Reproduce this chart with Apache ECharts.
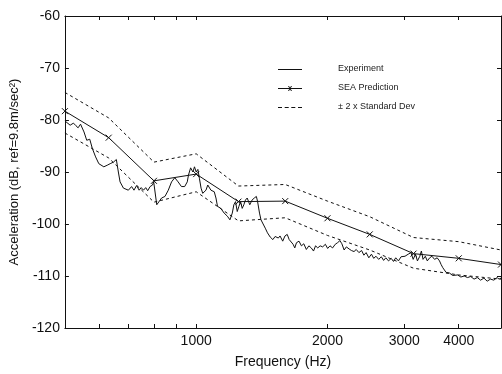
<!DOCTYPE html>
<html>
<head>
<meta charset="utf-8">
<script src="https://cdn.jsdelivr.net/npm/echarts@6/dist/echarts.min.js"></script>
<style>html,body{margin:0;padding:0;background:#fff;}#c{width:502px;height:374px;}</style>
</head>
<body>
<div id="c"></div>
<script>
// 1/3-octave band centres used by the SEA prediction
const seaFreq = [500, 630, 800, 1000, 1250, 1600, 2000, 2500, 3150, 4000, 5000];
const seaDb   = [-78.3, -83.4, -91.7, -90.4, -95.7, -95.6, -98.9, -102.0, -105.7, -106.6, -107.8];
const upperDb = [-74.7, -79.6, -88.1, -86.5, -92.7, -92.4, -95.6, -98.6, -102.6, -103.4, -105.0];
const lowerDb = [-82.5, -87.3, -95.8, -93.8, -99.4, -98.8, -102.2, -105.0, -108.5, -109.8, -110.6];

// Measured (experiment) spectrum
const expFreq = [502,507,514,523,530,536,543,553,561,570,578,588,598,614,625,635,646,656,663,669,681,699,711,720,730,740,748,757,766,774,784,794,799,812,833,848,863,878,893,909,925,941,954,960,971,983,991,1000,1009,1017,1026,1035,1041,1053,1063,1071,1081,1100,1110,1119,1129,1139,1159,1179,1195,1210,1220,1231,1242,1253,1264,1275,1286,1297,1309,1327,1343,1359,1374,1383,1397,1408,1422,1440,1457,1478,1499,1517,1543,1557,1579,1598,1617,1634,1668,1683,1698,1721,1743,1765,1789,1813,1836,1858,1878,1900,1924,1950,1978,2002,2027,2055,2084,2109,2136,2158,2184,2210,2242,2270,2301,2328,2361,2395,2424,2453,2488,2523,2553,2584,2621,2658,2690,2722,2761,2800,2834,2868,2909,2950,3012,3064,3108,3145,3183,3216,3257,3284,3313,3353,3388,3431,3472,3521,3569,3614,3645,3677,3710,3741,3774,3806,3839,3873,3908,3976,4045,4117,4188,4261,4337,4412,4489,4569,4648,4729,4814,4897,4950,5000];
const expDb = [-80.3,-80.1,-81.0,-80.6,-81.1,-81.5,-80.8,-82.3,-83.9,-83.7,-85.5,-87.1,-88.4,-89.0,-88.7,-88.4,-88.1,-87.6,-90.0,-91.9,-93.1,-93.5,-92.8,-93.5,-92.6,-93.5,-93.0,-93.5,-93.0,-93.6,-92.8,-92.5,-91.9,-96.3,-95.0,-94.7,-93.5,-91.9,-91.1,-91.9,-92.8,-92.8,-91.9,-90.6,-89.2,-90.0,-89.0,-90.0,-89.5,-91.2,-93.1,-94.1,-94.4,-93.5,-92.5,-92.2,-93.5,-93.8,-95.0,-96.6,-96.3,-97.0,-97.9,-98.5,-99.2,-97.9,-96.3,-95.7,-97.6,-96.6,-95.7,-97.0,-96.3,-95.4,-95.0,-96.3,-95.4,-95.0,-94.7,-95.7,-97.9,-99.2,-99.5,-100.8,-101.7,-102.5,-103.0,-102.4,-102.7,-102.3,-103.3,-102.3,-102.0,-103.0,-103.9,-104.6,-103.6,-103.3,-104.2,-103.8,-104.9,-104.2,-104.6,-105.2,-104.2,-104.6,-104.2,-104.4,-103.9,-104.7,-104.2,-104.6,-103.9,-103.6,-103.2,-103.8,-105.0,-104.4,-104.8,-105.1,-105.3,-104.9,-105.5,-105.1,-106.0,-105.5,-106.5,-105.8,-106.6,-106.2,-106.8,-106.3,-107.0,-106.5,-107.1,-106.6,-107.2,-106.5,-107.1,-106.3,-106.2,-105.8,-105.5,-106.8,-105.8,-107.1,-106.2,-105.2,-106.8,-106.2,-107.1,-106.5,-106.2,-106.8,-106.5,-107.1,-107.8,-108.4,-108.7,-109.3,-109.6,-109.4,-109.6,-109.9,-110.0,-109.8,-110.2,-110.0,-110.3,-110.1,-110.6,-110.3,-110.8,-110.4,-111.0,-110.6,-110.8,-110.3,-110.6,-110.4];

// Axis ticks / labels
const xTickValues  = [600, 700, 800, 900, 1000, 2000, 3000, 4000];
const xLabelValues = [1000, 2000, 3000, 4000];
const yMin = -120, yMax = -60, yStep = 10;

const zip = (a, b) => a.map((v, i) => [v, b[i]]);

const chart = echarts.init(document.getElementById('c'), null, {renderer: 'canvas'});
const ink = '#111';
const font = 'Liberation Sans, Arial, sans-serif';

// legend icons (24 x 10 box; tiny corner specks fix the bounding box)
const box = 'M0,0L0.01,0L0.01,0.01Z M23.99,9.99L24,9.99L24,10Z ';
const iconSolid = 'path://' + box + 'M0,5L24,5L24,6L0,6Z';
const iconSea = 'path://' + box + 'M0,5L24,5L24,6L0,6Z M10,3L11,3L14,8L13,8Z M13,3L14,3L11,8L10,8Z';
const iconDash = 'path://' + box + 'M0,5L4,5L4,6L0,6Z M6.7,5L10.7,5L10.7,6L6.7,6Z M13.3,5L17.3,5L17.3,6L13.3,6Z M20,5L24,5L24,6L20,6Z';

const xBase = {
  type: 'log', logBase: 10, min: 500, max: 5000,
  axisLine: {show: true, onZero: false, lineStyle: {color: ink, width: 1}},
  axisTick: {show: true, inside: true, length: 4, customValues: xTickValues, lineStyle: {color: ink}},
  splitLine: {show: false}, minorTick: {show: false}, minorSplitLine: {show: false}
};
const yBase = {
  type: 'value', min: yMin, max: yMax, interval: yStep,
  axisLine: {show: true, onZero: false, lineStyle: {color: ink, width: 1}},
  axisTick: {show: true, inside: true, length: 4, lineStyle: {color: ink}},
  splitLine: {show: false}
};

chart.setOption({
  animation: false,
  backgroundColor: '#fff',
  grid: {left: 62, right: 1, top: 16, bottom: 43, containLabel: false},
  legend: {
    orient: 'vertical', left: 278, top: 64, padding: 0, itemWidth: 24, itemHeight: 10, itemGap: 9,
    selectedMode: false,
    itemStyle: {color: ink, borderWidth: 0},
    textStyle: {fontFamily: font, fontSize: 9, color: '#222', padding: [0, 0, 0, 31]},
    data: [
      {name: 'Experiment', icon: iconSolid},
      {name: 'SEA Prediction', icon: iconSea},
      {name: '± 2 x Standard Dev', icon: iconDash}
    ]
  },
  xAxis: [
    Object.assign({}, xBase, {
      position: 'bottom',
      name: 'Frequency (Hz)', nameLocation: 'middle', nameGap: 27,
      nameTextStyle: {fontFamily: font, fontSize: 14, color: ink},
      axisLabel: {show: true, customValues: xLabelValues, fontFamily: font, fontSize: 14, color: ink, margin: 6,
        formatter: v => String(Math.round(v))}
    }),
    Object.assign({}, xBase, {position: 'top', axisLabel: {show: false}})
  ],
  yAxis: [
    Object.assign({}, yBase, {
      position: 'left',
      name: 'Acceleration (dB, ref=9.8m/sec²)', nameLocation: 'middle', nameGap: 41,
      nameTextStyle: {fontFamily: font, fontSize: 13, color: ink},
      axisLabel: {fontFamily: font, fontSize: 14, color: ink, margin: 5}
    }),
    Object.assign({}, yBase, {position: 'right', axisLabel: {show: false}})
  ],
  series: [
    {
      name: 'Experiment', type: 'line', xAxisIndex: 0, yAxisIndex: 0,
      data: zip(expFreq, expDb), showSymbol: false, symbol: 'none',
      lineStyle: {color: ink, width: 1}, itemStyle: {color: ink}, emphasis: {disabled: true}
    },
    {
      name: 'SEA Prediction', type: 'line', xAxisIndex: 0, yAxisIndex: 0,
      data: zip(seaFreq, seaDb),
      symbol: 'path://M0,0L10,10M10,0L0,10', symbolSize: 6, showSymbol: true,
      lineStyle: {color: ink, width: 1},
      itemStyle: {color: 'rgba(0,0,0,0)', borderColor: ink, borderWidth: 1},
      emphasis: {disabled: true}
    },
    {
      name: '± 2 x Standard Dev', type: 'line', xAxisIndex: 0, yAxisIndex: 0,
      data: zip(seaFreq, upperDb), symbol: 'none',
      lineStyle: {color: ink, width: 1, type: [3, 3]}, itemStyle: {color: ink},
      emphasis: {disabled: true}
    },
    {
      name: '± 2 x Standard Dev', type: 'line', xAxisIndex: 0, yAxisIndex: 0,
      data: zip(seaFreq, lowerDb), symbol: 'none',
      lineStyle: {color: ink, width: 1, type: [3, 3]}, itemStyle: {color: ink},
      emphasis: {disabled: true}
    }
  ]
});
</script>
</body>
</html>
